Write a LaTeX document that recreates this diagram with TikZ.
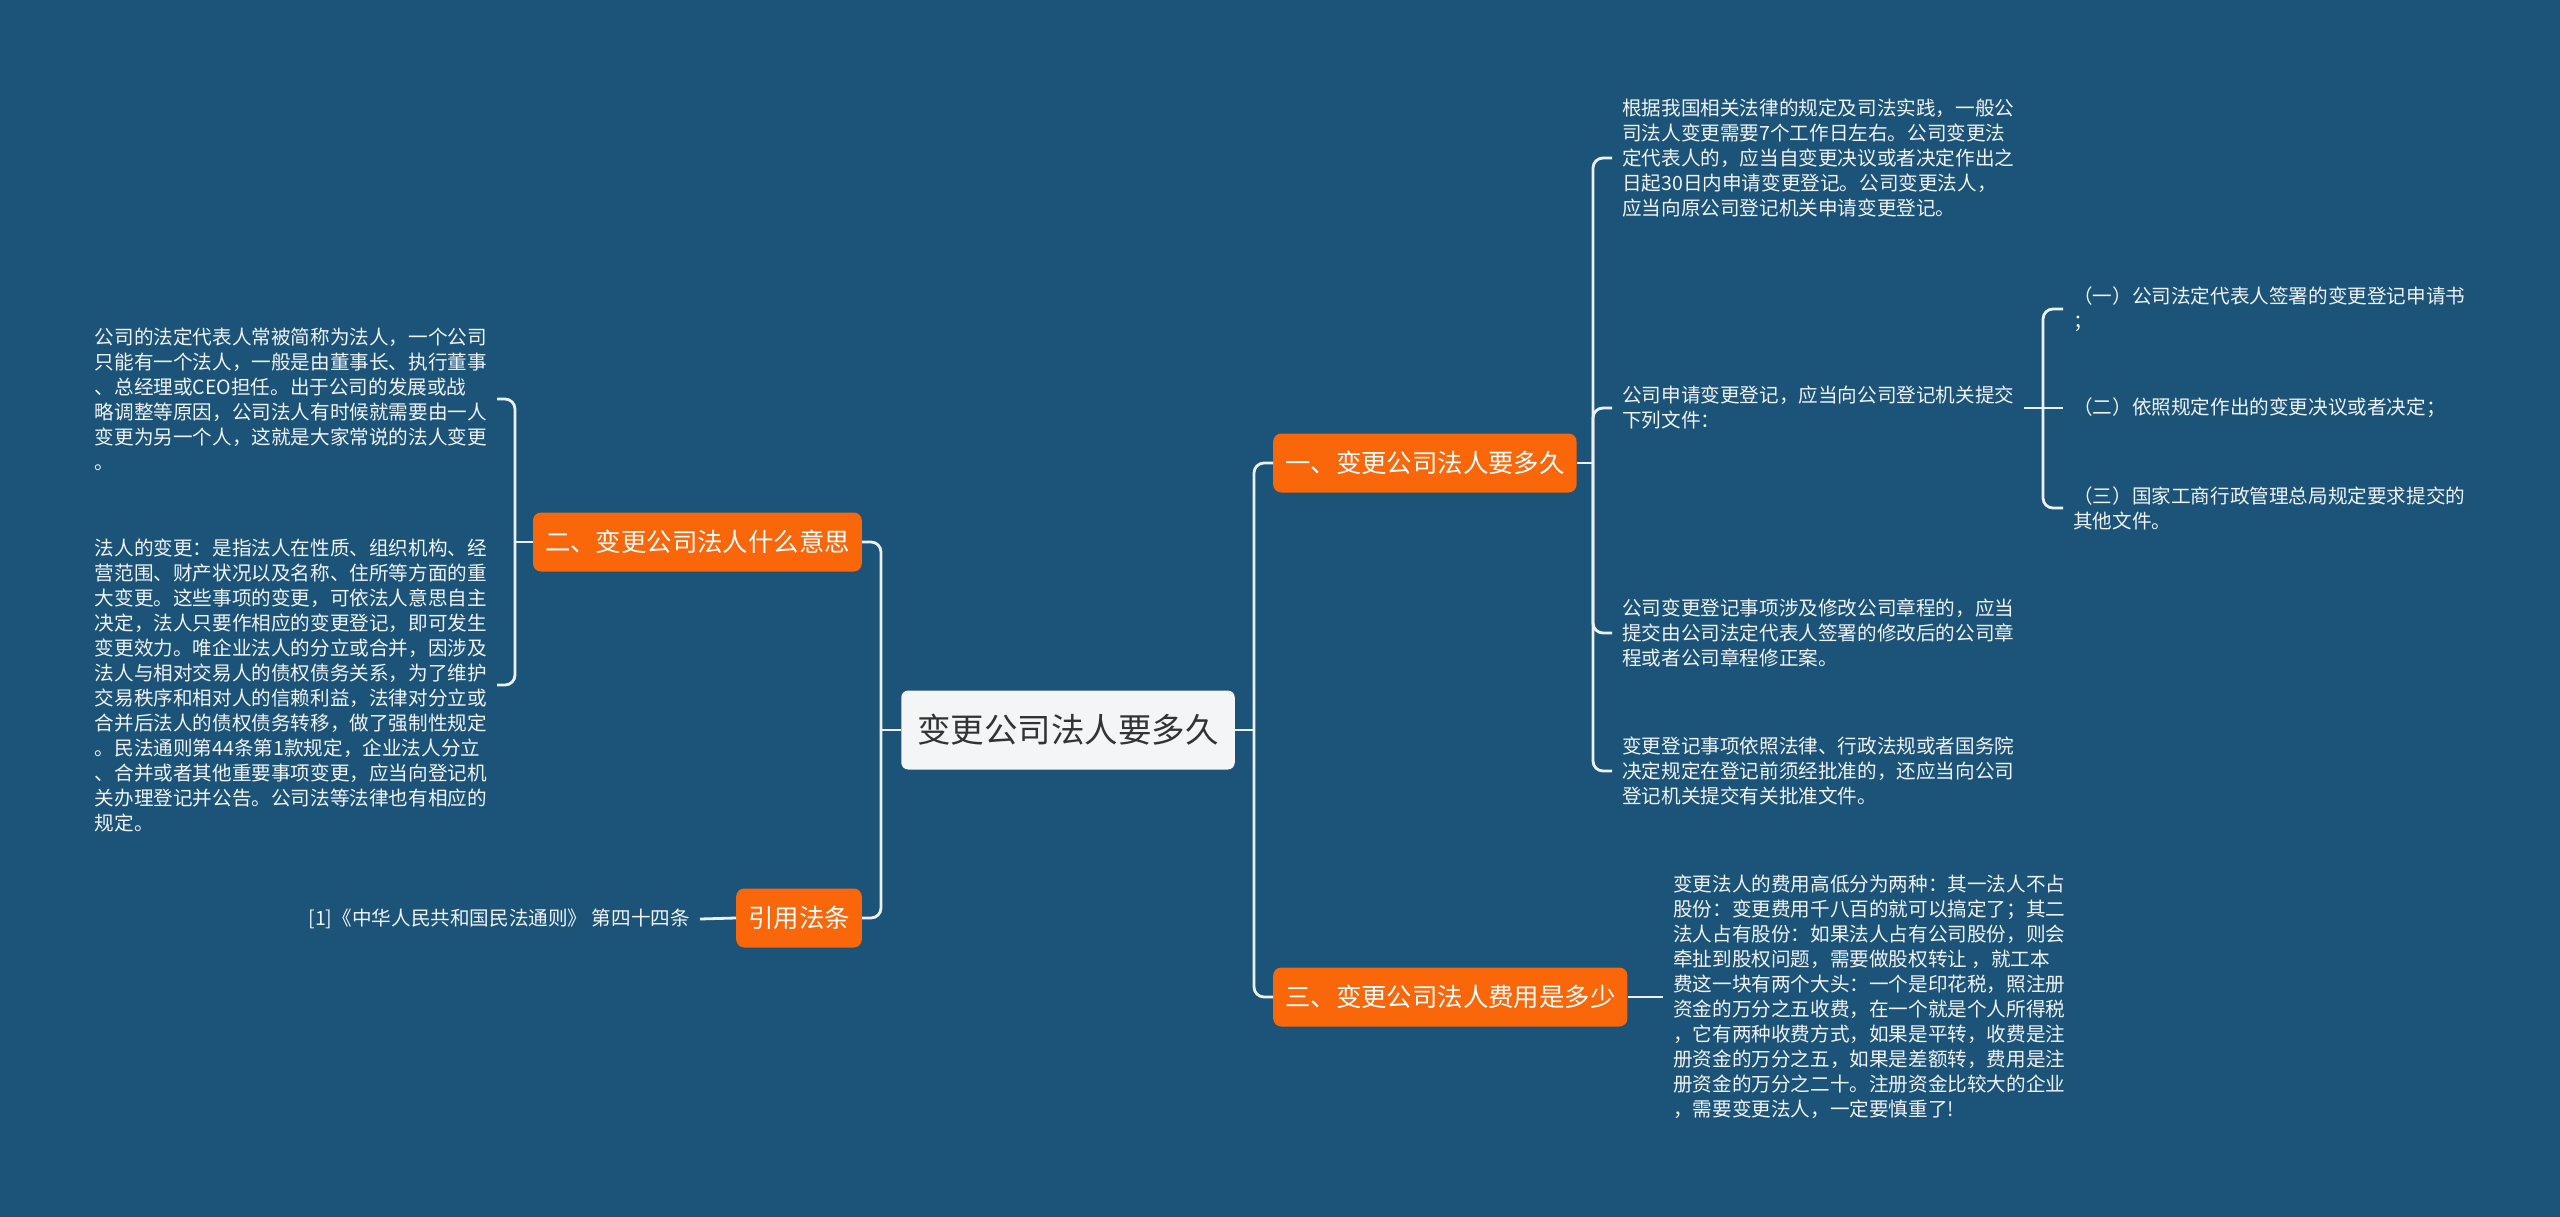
\documentclass[tikz,border=0pt]{standalone}
\usepackage{fontspec}
\setmainfont{Noto Sans CJK SC}
\definecolor{bg}{RGB}{27,83,121}
\definecolor{org}{RGB}{250,102,10}
\definecolor{rootbg}{RGB}{244,245,247}
\definecolor{ln}{RGB}{236,240,244}
\definecolor{txt}{RGB}{240,243,246}
\definecolor{roottxt}{RGB}{51,51,51}
\begin{document}
\begin{tikzpicture}[x=1pt,y=-1pt,
  conn/.style={draw=ln, line width=2.8pt},
  elbow/.style={conn, rounded corners=10pt},
  rootnode/.style={fill=rootbg, rounded corners=7pt, text=roottxt, font=\fontsize{33.5}{40}\selectfont, inner xsep=16pt, minimum height=79pt},
  mainnode/.style={fill=org, rounded corners=8pt, text=white, font=\fontsize{25.4}{30}\selectfont, inner xsep=12pt, minimum height=59pt},
  leaf/.style={text=txt, font=\fontsize{19.6}{25}\selectfont, align=left, inner xsep=10pt, inner ysep=2pt}
]
\useasboundingbox (0,0) rectangle (2560,1217);
\fill[bg] (0,0) rectangle (2560,1217);

\node[rootnode] (root) at (1068,730) {变更公司法人要多久};
\node[mainnode, anchor=west] (n1) at (1273,463) {一、变更公司法人要多久};
\node[mainnode, anchor=west] (n3) at (1273,997) {三、变更公司法人费用是多少};
\node[mainnode, anchor=east] (n2) at (862,542) {二、变更公司法人什么意思};
\node[mainnode, anchor=east] (n4) at (862,918) {引用法条};

\node[leaf, anchor=west] (t1) at (1612,158) {根据我国相关法律的规定及司法实践，一般公\\司法人变更需要7个工作日左右。公司变更法\\定代表人的，应当自变更决议或者决定作出之\\日起30日内申请变更登记。公司变更法人，\\应当向原公司登记机关申请变更登记。};
\node[leaf, anchor=west] (t2) at (1612,408) {公司申请变更登记，应当向公司登记机关提交\\下列文件：};
\node[leaf, anchor=west] (t3) at (1612,633) {公司变更登记事项涉及修改公司章程的，应当\\提交由公司法定代表人签署的修改后的公司章\\程或者公司章程修正案。};
\node[leaf, anchor=west] (t4) at (1612,771) {变更登记事项依照法律、行政法规或者国务院\\决定规定在登记前须经批准的，还应当向公司\\登记机关提交有关批准文件。};
\node[leaf, anchor=west] (s1) at (2063,309) {（一）公司法定代表人签署的变更登记申请书\\；};
\node[leaf, anchor=west] (s2) at (2063,408) {（二）依照规定作出的变更决议或者决定；};
\node[leaf, anchor=west] (s3) at (2063,508) {（三）国家工商行政管理总局规定要求提交的\\其他文件。};
\node[leaf, anchor=west] (t5) at (1663,997) {变更法人的费用高低分为两种：其一法人不占\\股份：变更费用千八百的就可以搞定了；其二\\法人占有股份：如果法人占有公司股份，则会\\牵扯到股权问题，需要做股权转让 ，就工本\\费这一块有两个大头：一个是印花税，照注册\\资金的万分之五收费，在一个就是个人所得税\\，它有两种收费方式，如果是平转，收费是注\\册资金的万分之五，如果是差额转，费用是注\\册资金的万分之二十。注册资金比较大的企业\\，需要变更法人，一定要慎重了!};

\node[leaf, anchor=east] (L1) at (497,399) {公司的法定代表人常被简称为法人，一个公司\\只能有一个法人，一般是由董事长、执行董事\\、总经理或CEO担任。出于公司的发展或战\\略调整等原因，公司法人有时候就需要由一人\\变更为另一个人，这就是大家常说的法人变更\\。};
\node[leaf, anchor=east] (L2) at (497,685) {法人的变更：是指法人在性质、组织机构、经\\营范围、财产状况以及名称、住所等方面的重\\大变更。这些事项的变更，可依法人意思自主\\决定，法人只要作相应的变更登记，即可发生\\变更效力。唯企业法人的分立或合并，因涉及\\法人与相对交易人的债权债务关系，为了维护\\交易秩序和相对人的信赖利益，法律对分立或\\合并后法人的债权债务转移，做了强制性规定\\。民法通则第44条第1款规定，企业法人分立\\、合并或者其他重要事项变更，应当向登记机\\关办理登记并公告。公司法等法律也有相应的\\规定。};
\node[leaf, anchor=east] (cite) at (700,919) {[1]《中华人民共和国民法通则》 第四十四条};

\coordinate (jL) at (881,730);
\coordinate (jR) at (1254,730);
\coordinate (j1) at (1593,463);
\coordinate (jB) at (515,542);
\coordinate (j2) at (2043,408);

\draw[conn] (root.west) -- (jL);
\draw[elbow] (jL) |- (n2.east);
\draw[elbow] (jL) |- (n4.east);
\draw[conn] (root.east) -- (jR);
\draw[elbow] (jR) |- (n1.west);
\draw[elbow] (jR) |- (n3.west);
\draw[conn] (n1.east) -- (j1);
\draw[elbow] (j1) |- (t1.west);
\draw[elbow] (j1) |- (t2.west);
\draw[elbow] (j1) |- (t3.west);
\draw[elbow] (j1) |- (t4.west);
\draw[conn] (n3.east) -- (t5.west);
\draw[conn] (t2.east) -- (s2.west);
\draw[elbow] (j2) |- (s1.west);
\draw[elbow] (j2) |- (s3.west);
\draw[conn] (n2.west) -- (jB);
\draw[elbow] (jB) |- (L1.east);
\draw[elbow] (jB) |- (L2.east);
\draw[conn] (n4.west) -- (cite.east);
\end{tikzpicture}
\end{document}
